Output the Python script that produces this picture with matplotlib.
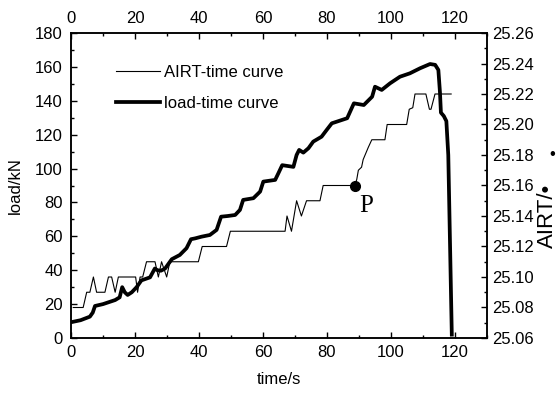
import numpy as np
import matplotlib
matplotlib.use("Agg")
import matplotlib.pyplot as plt
from matplotlib.ticker import MultipleLocator, FormatStrFormatter
from matplotlib.lines import Line2D

# load-time curve (time in s, load in kN)
load_time = [0.5, 3, 5.9, 6.8, 7.5, 10, 13.8, 15.2, 16.0, 16.8, 17.7, 19, 20.5,
             22.0, 24.7, 26.2, 27, 28.1, 29.4, 31.5, 34, 36.1, 37.5, 38.8, 40.8,
             43.4, 45.5, 46.9, 49, 51.3, 52.8, 53.8, 57, 59.1, 60.1, 63.8, 64.8,
             66.0, 69.5, 70.5, 71.3, 72.6, 74.2, 75.7, 78.3, 79.9, 81.5, 86.3,
             88.4, 91.5, 94.1, 95, 97.1, 99.7, 102.8, 105.9, 109.1, 112.2, 113.8,
             114.8, 115.3, 115.6, 116.5, 117.3, 117.9, 119.0]
load = [9.5, 10.5, 12.6, 15, 18.9, 20, 22.4, 24, 30, 27, 25.4, 27, 30,
        34, 35.8, 41, 40, 39.7, 41, 46.5, 49, 53, 58.3, 58.8, 59.8,
        60.8, 63.8, 71.6, 72, 72.6, 75.6, 81.5, 82.5, 86.4, 92.3, 93.3, 97.2,
        102, 101, 108, 111, 109.4, 112, 115.9, 118.8, 122.8, 126.7, 129.7,
        138.5, 137.5, 142.4, 148.3, 146.4, 150.3, 154.2, 156.2, 159.2, 161.7, 161.2,
        158.2, 145, 133, 131, 128, 108, 2]

# AIRT-time curve (time in s, AIRT)
airt_time = [0.7, 3.8, 4.9, 5.9, 7.0, 8.0, 10.6, 11.7, 12.7, 13.8, 14.8, 20.2,
             20.8, 21.6, 22.4, 23.6, 25.5, 26.25, 27.3, 28.3, 29.9, 30.9, 39.8,
             41.0, 48.6, 49.8, 66.9, 67.5, 68.9, 70.5, 72.0, 73.6, 77.8, 78.8,
             88.7, 89.3, 89.8, 90.8, 91.3, 91.9, 92.9, 94.0, 98.1, 98.8, 104.9,
             105.7, 106.8, 107.5, 110.9, 112.0, 112.5, 113.75, 118.8]
airt = [25.08, 25.08, 25.09, 25.09, 25.10, 25.09, 25.09, 25.10, 25.10, 25.09, 25.10, 25.10,
        25.09, 25.10, 25.10, 25.11, 25.11, 25.11, 25.10, 25.11, 25.10, 25.11, 25.11,
        25.12, 25.12, 25.13, 25.13, 25.14, 25.13, 25.15, 25.14, 25.15, 25.15, 25.16,
        25.16, 25.164, 25.17, 25.172, 25.177, 25.18, 25.185, 25.19, 25.19, 25.20, 25.20,
        25.21, 25.211, 25.22, 25.22, 25.21, 25.21, 25.22, 25.22]

# point P
p_time, p_airt = 88.7, 25.16

plt.rcParams['font.family'] = ['Liberation Sans', 'DejaVu Sans']
plt.rcParams['font.size'] = 12

fig = plt.figure(figsize=(5.57, 3.97), dpi=100)
ax = fig.add_axes([71/557, 59/397, 416/557, 305/397])
ax2 = ax.twinx()

ax.plot(load_time, load, color='black', lw=2.7, solid_joinstyle='round')
ax2.plot(airt_time, airt, color='black', lw=0.8)
ax2.plot([p_time], [p_airt], 'o', color='black', ms=7)
ax2.text(92.3, 25.1426, 'P', family=['Liberation Serif', 'DejaVu Serif'],
         fontsize=18, ha='center', va='baseline')

ax.set_xlim(0, 130)
ax.set_ylim(0, 180)
ax2.set_ylim(25.06, 25.26)

ax.xaxis.set_major_locator(MultipleLocator(20))
ax.xaxis.set_minor_locator(MultipleLocator(10))
ax.yaxis.set_major_locator(MultipleLocator(20))
ax.yaxis.set_minor_locator(MultipleLocator(10))
ax2.yaxis.set_major_locator(MultipleLocator(0.02))
ax2.yaxis.set_minor_locator(MultipleLocator(0.01))
ax2.yaxis.set_major_formatter(FormatStrFormatter('%.2f'))

ax.tick_params(axis='x', which='both', direction='in', top=True, labeltop=True, pad=5)
ax.tick_params(axis='y', which='both', direction='in', right=False, pad=6)
ax2.tick_params(axis='y', which='both', direction='in', pad=4)
for a in (ax, ax2):
    a.tick_params(which='major', length=4, width=1)
    a.tick_params(which='minor', length=2.5, width=1)
    for s in a.spines.values():
        s.set_linewidth(1.1)

ax.set_xlabel('time/s')
ax.xaxis.set_label_coords(0.5, -0.11)
ax.set_ylabel('load/kN')
ax.yaxis.set_label_coords(-0.115, 0.5)

# right axis label, cut off by the image edge in the original
fig.text(547/557, 1 - 248/397, 'AIRT/•', rotation=90, ha='center', va='bottom',
         fontsize=16)
fig.text(552/557, 1 - 155/397, '•', ha='center', va='center')

handles = [Line2D([], [], color='black', lw=0.8),
           Line2D([], [], color='black', lw=2.7)]
ax.legend(handles, ['AIRT-time curve', 'load-time curve'], loc='upper left',
          bbox_to_anchor=(0.089, 0.922), frameon=False, borderpad=0,
          handlelength=2.6, handletextpad=0.25, labelspacing=0.95)

fig.savefig('out.png', dpi=100)
